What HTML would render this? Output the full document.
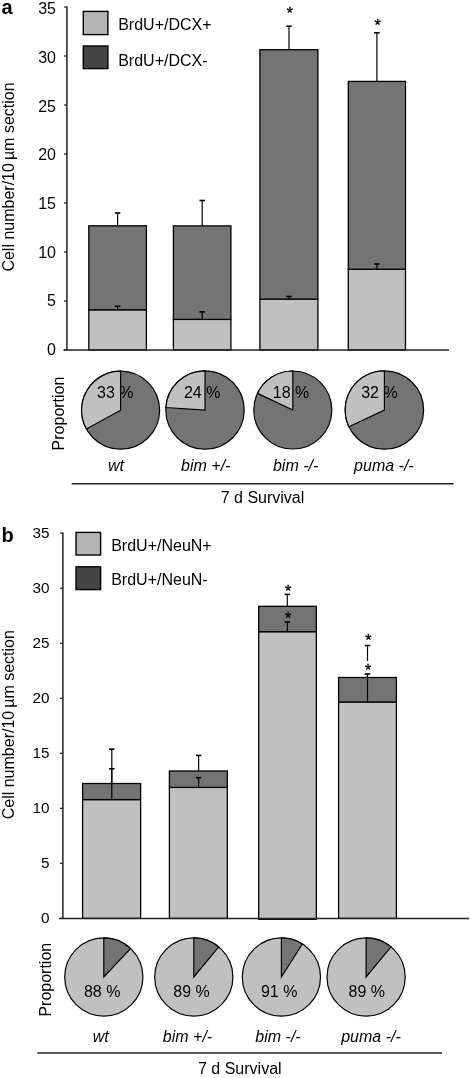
<!DOCTYPE html>
<html><head><meta charset="utf-8"><style>
html,body{margin:0;padding:0;background:#fff;}
svg{display:block;filter:grayscale(1);}
text{font-family:"Liberation Sans", sans-serif;fill:#000;}
</style></head><body>
<svg width="470" height="1078" viewBox="0 0 470 1078">
<rect width="470" height="1078" fill="#fff"/>
<text transform="translate(14,177) rotate(-90)" font-size="16" text-anchor="middle">Cell number/10<tspan dx="3">µm section</tspan></text>
<text x="1.5" y="14" font-size="20" text-anchor="start" font-style="normal" font-weight="bold" >a</text>
<line x1="66.9" y1="6.4" x2="66.9" y2="350" stroke="#222" stroke-width="1.5"/>
<line x1="64.10000000000001" y1="350.0" x2="66.9" y2="350.0" stroke="#222" stroke-width="1.3"/>
<text x="56.0" y="355.15" font-size="16" text-anchor="end" font-style="normal" font-weight="normal" >0</text>
<line x1="64.10000000000001" y1="301.0" x2="66.9" y2="301.0" stroke="#222" stroke-width="1.3"/>
<text x="56.0" y="306.45" font-size="16" text-anchor="end" font-style="normal" font-weight="normal" >5</text>
<line x1="64.10000000000001" y1="252.0" x2="66.9" y2="252.0" stroke="#222" stroke-width="1.3"/>
<text x="56.0" y="257.76" font-size="16" text-anchor="end" font-style="normal" font-weight="normal" >10</text>
<line x1="64.10000000000001" y1="203.0" x2="66.9" y2="203.0" stroke="#222" stroke-width="1.3"/>
<text x="56.0" y="209.06" font-size="16" text-anchor="end" font-style="normal" font-weight="normal" >15</text>
<line x1="64.10000000000001" y1="154.0" x2="66.9" y2="154.0" stroke="#222" stroke-width="1.3"/>
<text x="56.0" y="160.37" font-size="16" text-anchor="end" font-style="normal" font-weight="normal" >20</text>
<line x1="64.10000000000001" y1="104.99999999999997" x2="66.9" y2="104.99999999999997" stroke="#222" stroke-width="1.3"/>
<text x="56.0" y="111.67" font-size="16" text-anchor="end" font-style="normal" font-weight="normal" >25</text>
<line x1="64.10000000000001" y1="56.0" x2="66.9" y2="56.0" stroke="#222" stroke-width="1.3"/>
<text x="56.0" y="62.98" font-size="16" text-anchor="end" font-style="normal" font-weight="normal" >30</text>
<line x1="64.10000000000001" y1="7.0" x2="66.9" y2="7.0" stroke="#222" stroke-width="1.3"/>
<text x="56.0" y="14.28" font-size="16" text-anchor="end" font-style="normal" font-weight="normal" >35</text>
<rect x="83.3" y="11.4" width="24.60000000000001" height="23.200000000000003" fill="#b4b4b4" stroke="#000" stroke-width="1.4"/>
<text x="118.2" y="29.7" font-size="16" text-anchor="start" font-style="normal" font-weight="normal" >BrdU+/DCX+</text>
<rect x="83.3" y="46.0" width="24.60000000000001" height="22.599999999999994" fill="#444444" stroke="#000" stroke-width="1.4"/>
<text x="118.2" y="66.2" font-size="16" text-anchor="start" font-style="normal" font-weight="normal" >BrdU+/DCX-</text>
<rect x="88.8" y="309.8" width="57.60000000000001" height="40.20" fill="#c0c0c0" stroke="#000" stroke-width="1.3"/>
<rect x="88.8" y="225.8" width="57.60000000000001" height="84.0" fill="#747474" stroke="#000" stroke-width="1.3"/>
<rect x="173.4" y="319.4" width="57.5" height="30.60" fill="#c0c0c0" stroke="#000" stroke-width="1.3"/>
<rect x="173.4" y="225.9" width="57.5" height="93.49999999999997" fill="#747474" stroke="#000" stroke-width="1.3"/>
<rect x="259.9" y="299.1" width="58.0" height="50.90" fill="#c0c0c0" stroke="#000" stroke-width="1.3"/>
<rect x="259.9" y="49.7" width="58.0" height="249.40000000000003" fill="#747474" stroke="#000" stroke-width="1.3"/>
<rect x="348.3" y="269.2" width="57.19999999999999" height="80.80" fill="#c0c0c0" stroke="#000" stroke-width="1.3"/>
<rect x="348.3" y="81.4" width="57.19999999999999" height="187.79999999999998" fill="#747474" stroke="#000" stroke-width="1.3"/>
<line x1="117.6" y1="309.8" x2="117.6" y2="306.2" stroke="#000" stroke-width="1.2"/>
<line x1="114.85" y1="306.2" x2="120.35" y2="306.2" stroke="#000" stroke-width="1.6"/>
<line x1="117.6" y1="225.8" x2="117.6" y2="213" stroke="#000" stroke-width="1.2"/>
<line x1="114.85" y1="213" x2="120.35" y2="213" stroke="#000" stroke-width="1.6"/>
<line x1="202.2" y1="319.4" x2="202.2" y2="311.9" stroke="#000" stroke-width="1.2"/>
<line x1="199.45" y1="311.9" x2="204.95" y2="311.9" stroke="#000" stroke-width="1.6"/>
<line x1="202.2" y1="225.9" x2="202.2" y2="200.5" stroke="#000" stroke-width="1.2"/>
<line x1="199.45" y1="200.5" x2="204.95" y2="200.5" stroke="#000" stroke-width="1.6"/>
<line x1="289" y1="299.1" x2="289" y2="296.5" stroke="#000" stroke-width="1.2"/>
<line x1="286.25" y1="296.5" x2="291.75" y2="296.5" stroke="#000" stroke-width="1.6"/>
<line x1="289" y1="49.7" x2="289" y2="26.2" stroke="#000" stroke-width="1.2"/>
<line x1="286.25" y1="26.2" x2="291.75" y2="26.2" stroke="#000" stroke-width="1.6"/>
<text x="289.8" y="19.0" font-size="16" text-anchor="middle" stroke="#000" stroke-width="0.35">*</text>
<line x1="376.9" y1="269.2" x2="376.9" y2="264" stroke="#000" stroke-width="1.2"/>
<line x1="374.15" y1="264" x2="379.65" y2="264" stroke="#000" stroke-width="1.6"/>
<line x1="376.9" y1="81.4" x2="376.9" y2="32.8" stroke="#000" stroke-width="1.2"/>
<line x1="374.15" y1="32.8" x2="379.65" y2="32.8" stroke="#000" stroke-width="1.6"/>
<text x="377.7" y="31.45" font-size="16" text-anchor="middle" stroke="#000" stroke-width="0.35">*</text>
<line x1="63.5" y1="350" x2="449" y2="350" stroke="#222" stroke-width="1.5"/>
<circle cx="120.6" cy="410.2" r="39" fill="#747474" stroke="#000" stroke-width="1.2"/>
<path d="M120.60,410.20 L120.60,371.20 A39,39 0 0 0 86.42,428.99 Z" fill="#c0c0c0" stroke="#000" stroke-width="1.2" stroke-linejoin="miter"/>
<circle cx="205" cy="410" r="39.2" fill="#747474" stroke="#000" stroke-width="1.2"/>
<path d="M205.00,410.00 L205.00,370.80 A39.2,39.2 0 0 0 165.88,407.54 Z" fill="#c0c0c0" stroke="#000" stroke-width="1.2" stroke-linejoin="miter"/>
<circle cx="292.8" cy="410" r="39.0" fill="#747474" stroke="#000" stroke-width="1.2"/>
<path d="M292.80,410.00 L292.80,371.00 A39.0,39.0 0 0 0 257.51,393.39 Z" fill="#c0c0c0" stroke="#000" stroke-width="1.2" stroke-linejoin="miter"/>
<circle cx="384.4" cy="410" r="39.2" fill="#747474" stroke="#000" stroke-width="1.2"/>
<path d="M384.40,410.00 L384.40,370.80 A39.2,39.2 0 0 0 348.93,426.69 Z" fill="#c0c0c0" stroke="#000" stroke-width="1.2" stroke-linejoin="miter"/>
<text x="97.0" y="397.6" font-size="16" text-anchor="start" font-style="normal" font-weight="normal" >33 %</text>
<text x="183.9" y="397.6" font-size="16" text-anchor="start" font-style="normal" font-weight="normal" >24 %</text>
<text x="272.8" y="397.6" font-size="16" text-anchor="start" font-style="normal" font-weight="normal" >18 %</text>
<text x="361.2" y="397.6" font-size="16" text-anchor="start" font-style="normal" font-weight="normal" >32 %</text>
<text transform="translate(63.5,413.5) rotate(-90)" font-size="16" text-anchor="middle">Proportion</text>
<text x="116" y="470.9" font-size="16" text-anchor="middle" font-style="italic" font-weight="normal" >wt</text>
<text x="205.75" y="470.9" font-size="16" text-anchor="middle" font-style="italic" font-weight="normal" >bim +/-</text>
<text x="295.6" y="470.9" font-size="16" text-anchor="middle" font-style="italic" font-weight="normal" >bim -/-</text>
<text x="383.9" y="470.9" font-size="16" text-anchor="middle" font-style="italic" font-weight="normal" >puma -/-</text>
<line x1="71.7" y1="483.7" x2="453.6" y2="483.7" stroke="#222" stroke-width="1.4"/>
<text x="262.5" y="502.6" font-size="16" text-anchor="middle" font-style="normal" font-weight="normal" >7 d Survival</text>
<text transform="translate(14,724.7) rotate(-90)" font-size="16" text-anchor="middle">Cell number/10<tspan dx="3">µm section</tspan></text>
<text x="1.5" y="541.9" font-size="20" text-anchor="start" font-style="normal" font-weight="bold" >b</text>
<line x1="62.9" y1="532.5899999999999" x2="62.9" y2="918.4" stroke="#222" stroke-width="1.5"/>
<line x1="60.1" y1="918.4" x2="62.9" y2="918.4" stroke="#222" stroke-width="1.3"/>
<text x="49.5" y="923.4" font-size="15.3" text-anchor="end" font-style="normal" font-weight="normal" >0</text>
<line x1="60.1" y1="863.37" x2="62.9" y2="863.37" stroke="#222" stroke-width="1.3"/>
<text x="49.5" y="868.37" font-size="15.3" text-anchor="end" font-style="normal" font-weight="normal" >5</text>
<line x1="60.1" y1="808.3399999999999" x2="62.9" y2="808.3399999999999" stroke="#222" stroke-width="1.3"/>
<text x="49.5" y="813.34" font-size="15.3" text-anchor="end" font-style="normal" font-weight="normal" >10</text>
<line x1="60.1" y1="753.31" x2="62.9" y2="753.31" stroke="#222" stroke-width="1.3"/>
<text x="49.5" y="758.31" font-size="15.3" text-anchor="end" font-style="normal" font-weight="normal" >15</text>
<line x1="60.1" y1="698.28" x2="62.9" y2="698.28" stroke="#222" stroke-width="1.3"/>
<text x="49.5" y="703.28" font-size="15.3" text-anchor="end" font-style="normal" font-weight="normal" >20</text>
<line x1="60.1" y1="643.25" x2="62.9" y2="643.25" stroke="#222" stroke-width="1.3"/>
<text x="49.5" y="648.25" font-size="15.3" text-anchor="end" font-style="normal" font-weight="normal" >25</text>
<line x1="60.1" y1="588.22" x2="62.9" y2="588.22" stroke="#222" stroke-width="1.3"/>
<text x="49.5" y="593.22" font-size="15.3" text-anchor="end" font-style="normal" font-weight="normal" >30</text>
<line x1="60.1" y1="533.1899999999999" x2="62.9" y2="533.1899999999999" stroke="#222" stroke-width="1.3"/>
<text x="49.5" y="538.19" font-size="15.3" text-anchor="end" font-style="normal" font-weight="normal" >35</text>
<rect x="76.0" y="532.4" width="24.599999999999994" height="22.600000000000023" fill="#b4b4b4" stroke="#000" stroke-width="1.4"/>
<text x="111.2" y="550.6" font-size="16" text-anchor="start" font-style="normal" font-weight="normal" >BrdU+/NeuN+</text>
<rect x="76.0" y="566.8" width="24.599999999999994" height="22.800000000000068" fill="#444444" stroke="#000" stroke-width="1.4"/>
<text x="111.2" y="585.4" font-size="16" text-anchor="start" font-style="normal" font-weight="normal" >BrdU+/NeuN-</text>
<rect x="82.6" y="799.6" width="58.0" height="118.80" fill="#c0c0c0" stroke="#000" stroke-width="1.3"/>
<rect x="82.6" y="783.5" width="58.0" height="16.100000000000023" fill="#747474" stroke="#000" stroke-width="1.3"/>
<rect x="169.4" y="787.4" width="57.900000000000006" height="131.00" fill="#c0c0c0" stroke="#000" stroke-width="1.3"/>
<rect x="169.4" y="771" width="57.900000000000006" height="16.399999999999977" fill="#747474" stroke="#000" stroke-width="1.3"/>
<rect x="258.7" y="631.7" width="57.60000000000002" height="287.60" fill="#c0c0c0" stroke="#000" stroke-width="1.3"/>
<rect x="258.7" y="606.3" width="57.60000000000002" height="25.40000000000009" fill="#747474" stroke="#000" stroke-width="1.3"/>
<rect x="338.6" y="702" width="57.799999999999955" height="216.40" fill="#c0c0c0" stroke="#000" stroke-width="1.3"/>
<rect x="338.6" y="677.5" width="57.799999999999955" height="24.5" fill="#747474" stroke="#000" stroke-width="1.3"/>
<line x1="111.8" y1="799.6" x2="111.8" y2="768.8" stroke="#000" stroke-width="1.2"/>
<line x1="109.05" y1="768.8" x2="114.55" y2="768.8" stroke="#000" stroke-width="1.6"/>
<line x1="111.8" y1="783.5" x2="111.8" y2="749.2" stroke="#000" stroke-width="1.2"/>
<line x1="109.05" y1="749.2" x2="114.55" y2="749.2" stroke="#000" stroke-width="1.6"/>
<line x1="198.6" y1="787.4" x2="198.6" y2="777.7" stroke="#000" stroke-width="1.2"/>
<line x1="195.85" y1="777.7" x2="201.35" y2="777.7" stroke="#000" stroke-width="1.6"/>
<line x1="198.6" y1="771" x2="198.6" y2="755.4" stroke="#000" stroke-width="1.2"/>
<line x1="195.85" y1="755.4" x2="201.35" y2="755.4" stroke="#000" stroke-width="1.6"/>
<line x1="287.3" y1="631.7" x2="287.3" y2="622" stroke="#000" stroke-width="1.2"/>
<line x1="284.55" y1="622" x2="290.05" y2="622" stroke="#000" stroke-width="1.6"/>
<line x1="287.3" y1="606.3" x2="287.3" y2="594.4" stroke="#000" stroke-width="1.2"/>
<line x1="284.55" y1="594.4" x2="290.05" y2="594.4" stroke="#000" stroke-width="1.6"/>
<text x="288.1" y="596.55" font-size="16" text-anchor="middle" stroke="#000" stroke-width="0.35">*</text>
<text x="288.1" y="624.45" font-size="16" text-anchor="middle" stroke="#000" stroke-width="0.35">*</text>
<line x1="367.5" y1="702" x2="367.5" y2="674" stroke="#000" stroke-width="1.2"/>
<line x1="364.75" y1="674" x2="370.25" y2="674" stroke="#000" stroke-width="1.6"/>
<line x1="367.5" y1="661" x2="367.5" y2="645.5" stroke="#000" stroke-width="1.2"/>
<line x1="364.75" y1="645.5" x2="370.25" y2="645.5" stroke="#000" stroke-width="1.6"/>
<text x="368.4" y="646.2" font-size="16" text-anchor="middle" stroke="#000" stroke-width="0.35">*</text>
<text x="368.2" y="675.7" font-size="16" text-anchor="middle" stroke="#000" stroke-width="0.35">*</text>
<line x1="59" y1="918.4" x2="469" y2="918.4" stroke="#222" stroke-width="1.5"/>
<circle cx="103.8" cy="977.0" r="39.1" fill="#c0c0c0" stroke="#000" stroke-width="1.2"/>
<path d="M103.80,977.00 L103.80,937.90 A39.1,39.1 0 0 1 130.57,948.50 Z" fill="#747474" stroke="#000" stroke-width="1.2" stroke-linejoin="miter"/>
<circle cx="193.8" cy="977.0" r="39.1" fill="#c0c0c0" stroke="#000" stroke-width="1.2"/>
<path d="M193.80,977.00 L193.80,937.90 A39.1,39.1 0 0 1 218.72,946.87 Z" fill="#747474" stroke="#000" stroke-width="1.2" stroke-linejoin="miter"/>
<circle cx="281.4" cy="977.0" r="39.1" fill="#c0c0c0" stroke="#000" stroke-width="1.2"/>
<path d="M281.40,977.00 L281.40,937.90 A39.1,39.1 0 0 1 302.35,943.99 Z" fill="#747474" stroke="#000" stroke-width="1.2" stroke-linejoin="miter"/>
<circle cx="366.1" cy="977.0" r="39.1" fill="#c0c0c0" stroke="#000" stroke-width="1.2"/>
<path d="M366.10,977.00 L366.10,937.90 A39.1,39.1 0 0 1 391.02,946.87 Z" fill="#747474" stroke="#000" stroke-width="1.2" stroke-linejoin="miter"/>
<text x="83.9" y="996.9" font-size="16" text-anchor="start" font-style="normal" font-weight="normal" >88 %</text>
<text x="173.3" y="996.9" font-size="16" text-anchor="start" font-style="normal" font-weight="normal" >89 %</text>
<text x="260.9" y="996.9" font-size="16" text-anchor="start" font-style="normal" font-weight="normal" >91 %</text>
<text x="348.5" y="996.9" font-size="16" text-anchor="start" font-style="normal" font-weight="normal" >89 %</text>
<text transform="translate(51.2,979.7) rotate(-90)" font-size="16" text-anchor="middle">Proportion</text>
<text x="100.7" y="1041.8" font-size="16" text-anchor="middle" font-style="italic" font-weight="normal" >wt</text>
<text x="187.5" y="1041.8" font-size="16" text-anchor="middle" font-style="italic" font-weight="normal" >bim +/-</text>
<text x="278" y="1041.8" font-size="16" text-anchor="middle" font-style="italic" font-weight="normal" >bim -/-</text>
<text x="371" y="1041.8" font-size="16" text-anchor="middle" font-style="italic" font-weight="normal" >puma -/-</text>
<line x1="37.4" y1="1053" x2="442" y2="1053" stroke="#222" stroke-width="1.4"/>
<text x="239.8" y="1074.0" font-size="16" text-anchor="middle" font-style="normal" font-weight="normal" >7 d Survival</text>
</svg>
</body></html>
